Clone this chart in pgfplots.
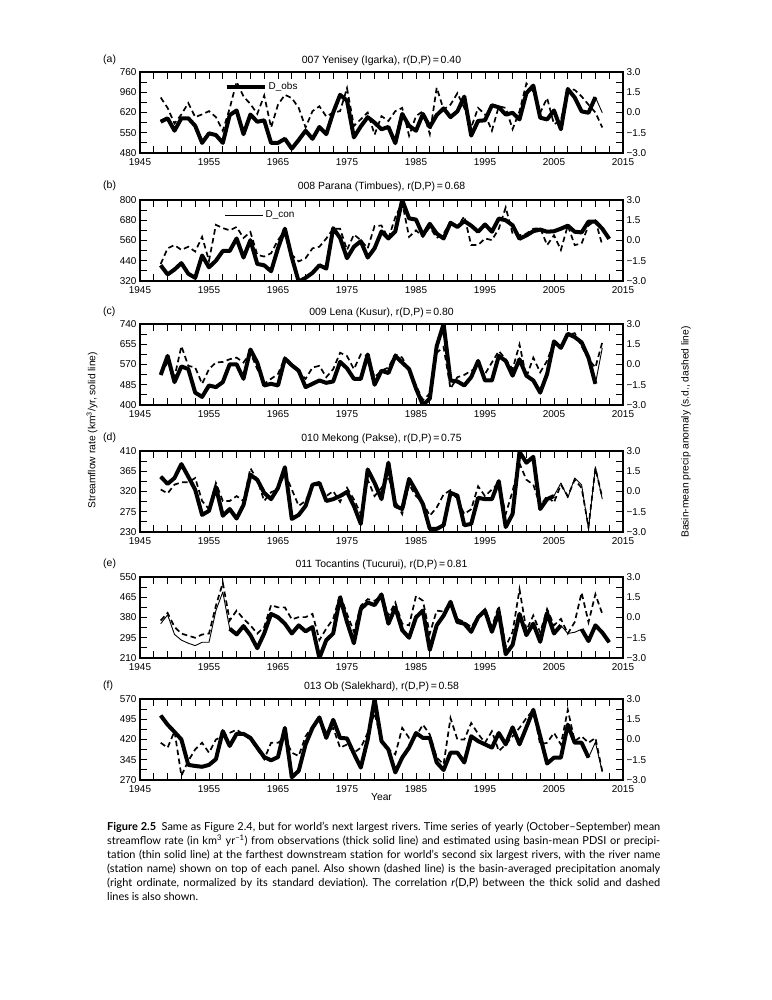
\documentclass[border=0pt]{standalone}
\usepackage{fontspec}
\setmainfont{Liberation Sans}
\newfontfamily\capfont{Lato}
\usepackage{pgfplots}
\usepackage{pgfplotstable}
\pgfplotsset{compat=1.18}

\pgfplotstableread{
year obs con pre
1948 588 588 1.11
1949 600 600 0.34
1950 557 557 -0.82
1951 600 600 -0.14
1952 600 600 0.70
1953 574 574 -0.34
1954 515 515 -0.14
1955 548 548 0.10
1956 542 542 -0.34
1957 515 515 -1.35
1958 611 611 0.30
1959 627 627 2.28
1960 545 545 1.19
1961 613 613 0.63
1962 588 588 -0.10
1963 593 593 1.26
1964 515 515 -1.11
1965 515 515 0.58
1966 529 529 1.31
1967 495 495 1.07
1968 525 525 0.34
1969 557 557 -1.11
1970 529 529 0.10
1971 570 570 0.46
1972 545 545 -0.30
1973 620 620 0.00
1974 681 681 0.10
1975 661 661 1.80
1976 534 534 -1.00
1977 572 572 -0.50
1978 604 604 0.00
1979 585 585 -1.64
1980 562 562 -0.27
1981 570 570 -0.63
1982 514 514 0.10
1983 615 615 0.34
1984 574 574 -1.72
1985 557 557 -0.27
1986 615 615 0.10
1987 570 570 -1.60
1988 611 611 1.84
1989 634 634 0.22
1990 604 604 0.58
1991 624 624 1.43
1992 675 675 0.34
1993 540 540 -1.11
1994 591 591 0.34
1995 593 593 -0.14
1996 645 645 -1.35
1997 638 638 0.46
1998 613 613 0.34
1999 619 619 -1.23
2000 596 596 0.10
2001 687 687 2.15
2002 713 713 1.55
2003 602 602 -0.02
2004 596 596 1.07
2005 627 627 -0.87
2006 562 562 -0.60
2007 701 701 1.79
2008 672 672 1.67
2009 624 624 1.19
2010 619 619 0.58
2011 673 673 0.00
2012 nan 619 -1.11
}\tabA

\pgfplotstableread{
year obs con pre
1948 413 413 -1.74
1949 359 359 -0.58
1950 388 388 -0.34
1951 426 426 -0.70
1952 363 363 -0.46
1953 339 339 -0.82
1954 471 471 0.27
1955 401 401 -1.50
1956 440 440 1.16
1957 498 498 0.92
1958 498 498 0.75
1959 572 572 1.00
1960 459 459 0.19
1961 562 562 0.63
1962 421 421 -1.06
1963 413 413 -1.19
1964 378 378 -0.94
1965 514 514 0.03
1966 630 630 0.75
1967 460 460 -1.06
1968 316 316 -1.55
1969 339 339 -1.31
1970 368 368 -0.58
1971 413 413 -0.46
1972 394 394 0.15
1973 633 633 0.87
1974 575 575 0.87
1975 455 455 -0.70
1976 523 523 0.44
1977 556 556 0.03
1978 459 459 -0.58
1979 514 514 1.07
1980 614 614 1.11
1981 572 572 0.15
1982 614 614 1.72
1983 800 800 2.80
1984 691 691 0.27
1985 684 684 0.75
1986 591 591 0.27
1987 659 659 1.00
1988 601 601 0.19
1989 572 572 0.51
1990 665 665 1.36
1991 640 640 1.00
1992 675 675 1.79
1993 648 648 -0.34
1994 612 612 -0.34
1995 655 655 0.15
1996 612 612 0.03
1997 690 690 0.87
1998 680 680 2.45
1999 650 650 0.51
2000 570 570 0.39
2001 590 590 0.51
2002 615 615 0.87
2003 625 625 0.92
2004 612 612 -0.34
2005 615 615 0.39
2006 630 630 -0.70
2007 648 648 1.11
2008 612 612 -0.34
2009 608 608 -0.22
2010 672 672 1.11
2011 672 672 1.48
2012 630 630 -0.34
2013 570 570 nan
}\tabB

\pgfplotstableread{
year obs con pre
1948 526 526 -0.70
1949 606 606 0.15
1950 496 496 -0.94
1951 562 562 1.36
1952 551 551 -0.10
1953 452 452 -0.22
1954 434 434 -1.43
1955 482 482 -0.34
1956 475 475 0.15
1957 496 496 0.19
1958 571 571 0.39
1959 571 571 0.51
1960 510 510 0.15
1961 633 633 0.87
1962 578 578 -0.34
1963 482 482 -1.43
1964 489 489 -1.06
1965 482 482 -0.70
1966 595 595 0.51
1967 567 567 0.03
1968 544 544 -0.58
1969 475 475 -1.06
1970 489 489 -0.22
1971 503 503 -0.10
1972 493 493 -0.94
1973 499 499 -0.34
1974 581 581 0.87
1975 554 554 0.63
1976 510 510 -0.34
1977 510 510 0.75
1978 612 612 0.63
1979 485 485 -0.94
1980 544 544 -0.46
1981 534 534 -0.22
1982 606 606 0.75
1983 578 578 0.51
1984 551 551 -0.46
1985 469 469 -1.55
1986 400 400 -2.64
1987 427 427 -2.15
1988 647 647 0.87
1989 740 740 1.30
1990 503 503 -1.79
1991 499 499 -0.94
1992 482 482 -0.77
1993 517 517 -0.46
1994 585 585 -0.22
1995 503 503 -0.70
1996 503 503 0.15
1997 606 606 1.00
1998 585 585 0.39
1999 523 523 -0.34
2000 592 592 1.48
2001 523 523 -0.94
2002 503 503 0.51
2003 452 452 -0.58
2004 530 530 0.27
2005 667 667 1.72
2006 640 640 1.24
2007 699 699 2.20
2008 685 685 2.32
2009 663 663 1.36
2010 599 599 0.39
2011 489 489 -0.22
2012 nan 640 1.65
}\tabC

\pgfplotstableread{
year obs con pre
1948 353 353 0.15
1949 337 337 -0.14
1950 350 350 0.51
1951 381 381 0.68
1952 353 353 0.68
1953 324 324 1.00
1954 268 268 -0.70
1955 277 277 -1.31
1956 330 330 0.63
1957 266 266 -0.70
1958 281 281 -0.70
1959 260 260 -0.34
1960 290 290 -0.70
1961 357 357 1.72
1962 346 346 0.87
1963 317 317 -0.70
1964 303 303 -0.05
1965 328 328 0.15
1966 374 374 1.36
1967 259 259 0.15
1968 268 268 -1.06
1969 288 288 -0.70
1970 335 335 0.39
1971 339 339 0.51
1972 299 299 -0.34
1973 303 303 0.03
1974 310 310 -0.77
1975 319 319 0.27
1976 288 288 -0.58
1977 248 248 -1.67
1978 369 369 0.87
1979 339 339 -0.34
1980 303 303 0.27
1981 384 384 1.11
1982 288 288 -0.70
1983 281 281 -1.67
1984 348 348 0.51
1985 321 321 -0.34
1986 292 292 -0.82
1987 237 237 -1.79
1988 237 237 -1.19
1989 245 245 -0.22
1990 317 317 0.10
1991 311 311 -0.58
1992 245 245 -1.67
1993 248 248 -1.31
1994 306 306 0.39
1995 303 303 -0.34
1996 303 303 0.15
1997 343 343 0.63
1998 241 241 -1.67
1999 270 270 0.03
2000 408 408 2.08
2001 384 384 0.87
2002 397 397 0.51
2003 281 281 -1.06
2004 303 303 -0.34
2005 310 310 -0.82
2006 nan 339 0.51
2007 nan 306 -0.34
2008 nan 350 0.87
2009 nan 335 0.27
2010 nan 237 -2.64
2011 nan 375 1.72
2012 nan 303 -0.46
}\tabD

\pgfplotstableread{
year obs con pre
1948 nan 354 -0.22
1949 nan 391 0.34
1950 nan 309 -0.70
1951 nan 285 -1.19
1952 nan 272 -1.35
1953 nan 262 -1.50
1954 nan 276 -1.26
1955 nan 276 -1.19
1956 nan 409 0.87
1957 nan 487 2.57
1958 333 333 -0.22
1959 309 309 0.51
1960 344 344 -0.10
1961 306 306 -0.58
1962 251 251 -1.19
1963 313 313 -0.70
1964 395 395 0.92
1965 381 381 0.75
1966 354 354 0.75
1967 313 313 -0.14
1968 347 347 0.03
1969 322 322 0.03
1970 340 340 0.27
1971 210 210 -1.67
1972 285 285 -0.82
1973 313 313 -0.10
1974 464 464 1.72
1975 361 361 0.27
1976 272 272 -1.06
1977 416 416 0.87
1978 443 443 1.36
1979 432 432 1.24
1980 477 477 1.60
1981 354 354 0.15
1982 422 422 1.11
1983 327 327 -0.46
1984 295 295 -0.58
1985 381 381 1.60
1986 409 409 1.24
1987 244 244 -1.19
1988 347 347 0.51
1989 388 388 0.44
1990 446 446 1.11
1991 361 361 -0.10
1992 354 354 -0.34
1993 320 320 -0.70
1994 381 381 0.03
1995 409 409 0.63
1996 320 320 -0.70
1997 402 402 0.87
1998 226 226 -2.15
1999 265 265 -1.06
2000 395 395 2.08
2001 306 306 -0.94
2002 354 354 0.15
2003 278 278 -1.11
2004 399 399 0.63
2005 313 313 -0.58
2006 347 347 -0.10
2007 nan 313 -1.19
2008 nan 318 -0.34
2009 331 331 1.84
2010 281 281 -0.34
2011 347 347 1.72
2012 317 317 0.27
2013 276 276 nan
}\tabE

\pgfplotstableread{
year obs con pre
1948 509 509 -0.24
1949 475 475 -0.61
1950 448 448 0.61
1951 420 420 -2.68
1952 326 326 -1.58
1953 322 322 -0.73
1954 319 319 -0.24
1955 326 326 -0.98
1956 347 347 0.00
1957 451 451 0.24
1958 396 396 0.49
1959 441 441 0.73
1960 441 441 0.37
1961 426 426 0.00
1962 390 390 -0.73
1963 355 355 -1.46
1964 343 343 -0.24
1965 355 355 -0.24
1966 463 463 0.12
1967 280 280 -0.98
1968 304 304 -1.22
1969 402 402 0.24
1970 463 463 0.98
1971 502 502 1.59
1972 426 426 0.49
1973 493 493 0.86
1974 426 426 -0.61
1975 424 424 -0.37
1976 368 368 -0.98
1977 316 316 -0.61
1978 420 420 0.49
1979 570 570 1.95
1980 414 414 -0.12
1981 383 383 -0.73
1982 298 298 -1.10
1983 353 353 0.86
1984 390 390 0.12
1985 444 444 0.24
1986 426 426 1.10
1987 426 426 0.37
1988 335 335 -1.34
1989 307 307 -1.83
1990 371 371 1.59
1991 371 371 0.00
1992 335 335 0.00
1993 432 432 1.22
1994 414 414 0.42
1995 402 402 -0.24
1996 390 390 0.61
1997 444 444 -0.85
1998 402 402 -0.37
1999 465 465 0.24
2000 402 402 0.86
2001 465 465 1.59
2002 530 530 2.20
2003 432 432 -0.37
2004 331 331 -0.24
2005 353 353 0.49
2006 353 353 -0.37
2007 475 475 2.20
2008 408 408 -0.12
2009 408 408 0.24
2010 353 353 -0.24
2011 nan 410 0.12
2012 nan 300 -2.37
}\tabF

\newcommand\cf{\fontsize{10}{12}\selectfont}
\newcommand\tf{\fontsize{10.5}{12}\selectfont}

\pgfplotsset{
  panel/.style={scale only axis, width=483bp, height=81bp, xmin=1945, xmax=2015,
    unbounded coords=jump,
    axis line style={line width=1.1bp},
    every tick/.style={black, line width=1bp},
    tick align=inside, major tick length=7bp, minor tick length=7bp,
    xtick={1945,1955,...,2015},
    xticklabels={\mbox{1945},\mbox{1955},\mbox{1965},\mbox{1975},\mbox{1985},\mbox{1995},\mbox{2005},\mbox{2015}},
    minor xtick={1947,1949,...,2013},
    tick label style={font=\cf},
    xticklabel style={yshift=-2.5bp}},
  leftax/.style={panel, ytick pos=left, xtick pos=both},
  rightax/.style={panel, axis y line*=right, axis x line=none,
    ymin=-3, ymax=3, ytick={-3,-1.5,0,1.5,3},
    yticklabels={\mbox{−3.0},\mbox{−1.5},\mbox{0.0},\mbox{1.5},\mbox{3.0}},
    minor ytick={-2.25,-0.75,0.75,2.25}},
  obs/.style={black, line width=4bp, line join=round, no markers},
  con/.style={black, line width=0.9bp, line join=round, no markers},
  pre/.style={black, line width=1.7bp, dash pattern=on 5.5bp off 3.5bp, no markers},
  leg/.style={legend style={at={(0.175,0.815)}, anchor=west, draw=none, fill=none,
    font=\cf, inner sep=0pt},
    legend image code/.code={\draw[##1] (0bp,0bp) -- (38bp,0bp);}},
}

\begin{document}
\frenchspacing
\begin{tikzpicture}
\useasboundingbox (0,0) rectangle (772bp,-1000bp);

% (a)
\begin{axis}[leftax, leg, at={(140bp,-153bp)}, anchor=south west,
  ymin=480, ymax=760, ytick={480,550,620,690,760},
  yticklabels={\mbox{480},\mbox{550},\mbox{620},\mbox{960},\mbox{760}}, minor ytick={515,585,655,725}]
\addplot[con, forget plot] table[x=year,y=con]{\tabA};
\addplot[obs] table[x=year,y=obs]{\tabA};
\addlegendentry{D\_obs}
\end{axis}
\begin{axis}[rightax, at={(140bp,-153bp)}, anchor=south west]
\addplot[pre] table[x=year,y=pre]{\tabA};
\end{axis}

% (b)
\begin{axis}[leftax, leg, at={(140bp,-281bp)}, anchor=south west,
  ymin=320, ymax=800, ytick={320,440,560,680,800},
  yticklabels={\mbox{320},\mbox{440},\mbox{560},\mbox{680},\mbox{800}},
  minor ytick={380,500,620,740}]
\addplot[obs, forget plot] table[x=year,y=obs]{\tabB};
\addplot[con] table[x=year,y=con]{\tabB};
\addlegendentry{D\_con}
\end{axis}
\begin{axis}[rightax, at={(140bp,-281bp)}, anchor=south west]
\addplot[pre] table[x=year,y=pre]{\tabB};
\end{axis}

% (c)
\begin{axis}[leftax, at={(140bp,-405bp)}, anchor=south west,
  ymin=400, ymax=740, ytick={400,485,570,655,740},
  yticklabels={\mbox{400},\mbox{485},\mbox{570},\mbox{655},\mbox{740}},
  minor ytick={442.5,527.5,612.5,697.5}]
\addplot[con] table[x=year,y=con]{\tabC};
\addplot[obs] table[x=year,y=obs]{\tabC};
\end{axis}
\begin{axis}[rightax, at={(140bp,-405bp)}, anchor=south west]
\addplot[pre] table[x=year,y=pre]{\tabC};
\end{axis}

% (d)
\begin{axis}[leftax, at={(140bp,-532bp)}, anchor=south west,
  ymin=230, ymax=410, ytick={230,275,320,365,410},
  yticklabels={\mbox{230},\mbox{275},\mbox{320},\mbox{365},\mbox{410}},
  minor ytick={252.5,297.5,342.5,387.5}]
\addplot[con] table[x=year,y=con]{\tabD};
\addplot[obs] table[x=year,y=obs]{\tabD};
\end{axis}
\begin{axis}[rightax, at={(140bp,-532bp)}, anchor=south west]
\addplot[pre] table[x=year,y=pre]{\tabD};
\end{axis}

% (e)
\begin{axis}[leftax, at={(140bp,-658bp)}, anchor=south west,
  ymin=210, ymax=550, ytick={210,295,380,465,550},
  yticklabels={\mbox{210},\mbox{295},\mbox{380},\mbox{465},\mbox{550}},
  minor ytick={252.5,337.5,422.5,507.5}]
\addplot[con] table[x=year,y=con]{\tabE};
\addplot[obs] table[x=year,y=obs]{\tabE};
\end{axis}
\begin{axis}[rightax, at={(140bp,-658bp)}, anchor=south west]
\addplot[pre] table[x=year,y=pre]{\tabE};
\end{axis}

% (f)
\begin{axis}[leftax, at={(140bp,-780bp)}, anchor=south west,
  ymin=270, ymax=570, ytick={270,345,420,495,570},
  yticklabels={\mbox{270},\mbox{345},\mbox{420},\mbox{495},\mbox{570}},
  minor ytick={307.5,382.5,457.5,532.5}]
\addplot[con] table[x=year,y=con]{\tabF};
\addplot[obs] table[x=year,y=obs]{\tabF};
\end{axis}
\begin{axis}[rightax, at={(140bp,-780bp)}, anchor=south west]
\addplot[pre] table[x=year,y=pre]{\tabF};
\end{axis}

% titles and panel letters
\begin{scope}[every node/.style={font=\tf, inner sep=0pt}]
\node[anchor=base] at (381.5bp,-63.5bp) {007 Yenisey (Igarka), r(D,P)\,=\,0.40};
\node[anchor=base] at (381.5bp,-189.5bp) {008 Parana (Timbues), r(D,P)\,=\,0.68};
\node[anchor=base] at (381.5bp,-315.5bp) {009 Lena (Kusur), r(D,P)\,=\,0.80};
\node[anchor=base] at (381.5bp,-441.5bp) {010 Mekong (Pakse), r(D,P)\,=\,0.75};
\node[anchor=base] at (381.5bp,-567.5bp) {011 Tocantins (Tucurui), r(D,P)\,=\,0.81};
\node[anchor=base] at (381.5bp,-689.5bp) {013 Ob (Salekhard), r(D,P)\,=\,0.58};
\node[anchor=base west] at (103bp,-62bp) {(a)};
\node[anchor=base west] at (103bp,-188bp) {(b)};
\node[anchor=base west] at (103bp,-314bp) {(c)};
\node[anchor=base west] at (103bp,-440bp) {(d)};
\node[anchor=base west] at (103bp,-566bp) {(e)};
\node[anchor=base west] at (103bp,-688bp) {(f)};
\end{scope}
\begin{scope}[every node/.style={font=\fontsize{10.3}{12}\selectfont, inner sep=0pt}]
\node[rotate=90] at (92bp,-430bp) {Streamflow rate (km\textsuperscript{3}/yr, solid line)};
\node[rotate=90] at (686bp,-432bp) {Basin-mean precip anomaly (s.d., dashed line)};
\node at (381.5bp,-797bp) {Year};
\end{scope}

% caption
\begin{scope}[every node/.style={font=\capfont\fontsize{11}{13}\selectfont, inner sep=0pt, anchor=base west}]
\node at (107bp,-830bp) {\makebox[553bp][s]{\textbf{Figure 2.5}\hspace{0.5em}Same as Figure 2.4, but for world’s next largest rivers. Time series of yearly (October–September) mean}};
\node at (107bp,-844bp) {\makebox[553bp][s]{streamflow rate (in km\textsuperscript{3} yr\textsuperscript{−1}) from observations (thick solid line) and estimated using basin-mean PDSI or precipi-}};
\node at (107bp,-858bp) {\makebox[553bp][s]{tation (thin solid line) at the farthest downstream station for world’s second six largest rivers, with the river name}};
\node at (107bp,-872bp) {\makebox[553bp][s]{(station name) shown on top of each panel. Also shown (dashed line) is the basin-averaged precipitation anomaly}};
\node at (107bp,-886bp) {\makebox[553bp][s]{(right ordinate, normalized by its standard deviation). The correlation \textit{r}(D,P) between the thick solid and dashed}};
\node at (107bp,-900bp) {lines is also shown.};
\end{scope}
\end{tikzpicture}
\end{document}
